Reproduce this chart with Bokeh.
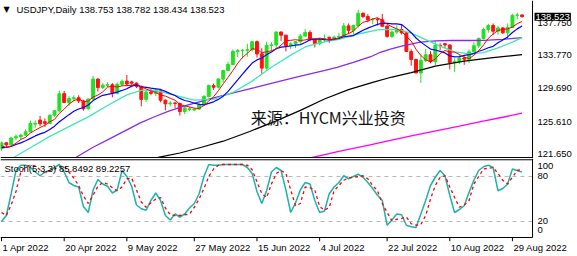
import pandas as pd
from bokeh.plotting import figure
from bokeh.layouts import column
from bokeh.models import Range1d, Label, Span, ColumnDataSource
from bokeh.core.properties import value
from bokeh.embed import file_html
from bokeh.resources import INLINE

# ---------------- texts ----------------
symbol_title = "USDJPY,Daily  138.753 138.782 138.434 138.523"
stoch_title = "Stoch(5,3,3) 85.8492 89.2257"
watermark = "来源：HYCM兴业投资"
last_price = 138.523

# ---------------- data ----------------
dates = pd.bdate_range("2022-04-01", "2022-08-31")   # 109 daily bars
bar = list(range(len(dates)))

opens = [122.30, 123.00, 122.75, 123.60, 123.75, 123.95, 124.35, 125.30, 125.80, 125.60,
         125.40, 126.40, 126.95, 129.05, 127.95, 128.45, 128.55, 128.15, 127.20, 128.40,
         130.85, 129.80, 130.10, 130.15, 129.10, 130.20, 130.60, 130.50, 130.35, 129.95,
         128.35, 129.25, 129.10, 129.40, 128.25, 127.80, 127.90, 127.85, 126.85, 127.10,
         127.05, 127.15, 127.65, 128.70, 130.05, 129.85, 130.85, 131.90, 132.65, 134.25,
         134.35, 134.40, 134.45, 135.45, 133.95, 132.20, 135.00, 135.05, 136.65, 136.25,
         134.95, 135.20, 135.45, 136.15, 136.60, 135.70, 135.20, 135.70, 136.00, 135.85,
         136.00, 136.10, 137.40, 136.85, 137.45, 138.95, 138.55, 138.15, 138.20, 138.15,
         137.35, 136.10, 136.65, 136.95, 136.55, 134.25, 133.25, 131.60, 133.15, 133.85,
         133.00, 135.00, 135.20, 135.05, 132.90, 133.00, 133.45, 133.30, 134.20, 134.95,
         135.85, 136.95, 137.45, 136.75, 137.15, 136.55, 137.20, 138.70, 138.753]
highs = [123.15, 123.10, 123.75, 124.05, 124.10, 124.65, 125.75, 125.75, 126.30, 126.00,
         126.45, 127.05, 129.45, 129.40, 128.75, 128.85, 128.85, 128.30, 128.45, 131.25,
         130.95, 130.35, 130.45, 130.35, 130.45, 130.80, 131.35, 130.65, 130.45, 130.05,
         129.40, 129.65, 129.75, 129.45, 128.35, 128.15, 128.05, 127.95, 127.45, 127.45,
         127.30, 127.95, 128.90, 130.20, 130.30, 130.95, 132.00, 133.00, 134.50, 134.55,
         134.55, 135.20, 135.45, 135.60, 134.65, 135.45, 135.40, 136.70, 136.70, 136.30,
         135.40, 135.55, 136.40, 137.00, 136.85, 135.90, 135.95, 136.35, 136.05, 136.20,
         136.55, 137.75, 137.70, 137.55, 139.38, 139.05, 138.85, 138.35, 138.40, 138.88,
         137.50, 136.85, 137.45, 137.50, 136.60, 134.50, 133.40, 133.90, 134.55, 134.30,
         135.50, 135.25, 135.30, 135.10, 133.40, 133.85, 133.65, 134.50, 135.40, 135.95,
         137.20, 137.65, 137.70, 137.40, 137.25, 137.70, 138.85, 139.05, 138.782]
lows = [122.05, 122.45, 122.60, 123.30, 123.40, 123.85, 124.30, 124.85, 125.05, 124.95,
        125.35, 126.20, 126.75, 127.95, 127.55, 128.10, 127.90, 126.95, 127.05, 128.30,
        129.30, 129.60, 129.85, 128.60, 128.95, 129.95, 130.00, 129.85, 129.75, 127.50,
        128.05, 128.85, 128.75, 128.00, 127.00, 127.50, 127.30, 126.36, 126.55, 126.90,
        126.90, 127.10, 127.55, 128.60, 129.50, 129.70, 130.40, 131.80, 132.55, 133.55,
        133.40, 133.60, 134.25, 133.50, 131.50, 132.00, 134.25, 134.55, 135.55, 134.25,
        134.55, 134.65, 135.25, 136.05, 135.55, 134.75, 135.00, 135.40, 135.30, 135.65,
        135.85, 136.05, 136.40, 136.35, 137.20, 138.35, 137.85, 137.60, 137.45, 137.25,
        135.95, 135.90, 136.40, 136.35, 134.20, 132.50, 131.55, 130.39, 132.95, 132.80,
        132.55, 134.45, 134.65, 132.05, 131.75, 132.70, 132.60, 132.85, 134.10, 134.65,
        135.75, 136.55, 136.30, 136.30, 136.40, 135.80, 137.15, 138.20, 138.434]
closes = [123.00, 122.75, 123.60, 123.75, 123.95, 124.35, 125.40, 125.40, 125.35, 125.40,
          126.40, 126.95, 129.05, 127.95, 128.45, 128.55, 128.15, 127.20, 128.40, 130.85,
          129.80, 130.10, 130.15, 129.10, 130.20, 130.55, 130.25, 130.35, 129.95, 128.35,
          129.25, 129.10, 129.40, 128.25, 127.80, 127.90, 127.85, 126.85, 127.30, 127.20,
          127.15, 127.65, 128.70, 130.05, 129.85, 130.85, 131.90, 132.65, 134.25, 134.35,
          134.40, 134.45, 135.45, 133.95, 132.20, 135.00, 135.05, 136.65, 136.25, 134.95,
          135.20, 135.45, 136.15, 136.60, 135.70, 135.20, 135.70, 135.85, 135.85, 136.00,
          136.10, 137.40, 136.85, 137.45, 138.95, 138.55, 138.15, 138.20, 138.15, 137.35,
          136.10, 136.65, 136.95, 136.55, 134.25, 133.25, 131.60, 133.15, 133.85, 133.00,
          135.00, 134.95, 135.05, 132.90, 133.00, 133.45, 133.30, 134.20, 134.95, 135.85,
          136.95, 137.45, 136.75, 137.15, 136.55, 137.20, 138.70, 138.75, 138.523]

# fast (red) and 10-bar (blue) averages, one value per bar
ma_red = [122.64, 122.43, 122.59, 122.96, 123.41, 123.68, 124.21, 124.56, 124.88, 125.17,
          125.58, 125.89, 126.63, 127.15, 127.76, 128.19, 128.43, 128.06, 128.15, 128.63,
          128.88, 129.27, 129.86, 130.00, 129.87, 130.02, 130.05, 130.09, 130.26, 129.89,
          129.63, 129.40, 129.21, 128.87, 128.76, 128.49, 128.24, 127.73, 127.54, 127.42,
          127.27, 127.23, 127.60, 128.15, 128.68, 129.42, 130.27, 131.06, 131.90, 132.80,
          133.51, 134.02, 134.58, 134.52, 134.09, 134.21, 134.33, 134.57, 135.03, 135.58,
          135.62, 135.70, 135.60, 135.67, 135.82, 135.82, 135.87, 135.81, 135.66, 135.72,
          135.90, 136.24, 136.44, 136.76, 137.35, 137.84, 137.99, 138.26, 138.40, 138.08,
          137.59, 137.29, 137.04, 136.72, 136.10, 135.53, 134.52, 133.76, 133.22, 132.97,
          133.32, 133.99, 134.37, 134.18, 134.18, 133.87, 133.54, 133.37, 133.78, 134.35,
          135.05, 135.88, 136.39, 136.83, 136.97, 137.02, 137.27, 137.67, 137.94]
ma_blue = [122.40, 122.45, 122.55, 122.80, 123.00, 123.25, 123.55, 123.85, 124.10, 124.29,
           124.63, 125.05, 125.60, 126.02, 126.47, 126.89, 127.16, 127.35, 127.65, 128.20,
           128.54, 128.85, 128.96, 129.08, 129.25, 129.45, 129.66, 129.98, 130.13, 129.88,
           129.83, 129.73, 129.65, 129.57, 129.33, 129.06, 128.82, 128.47, 128.21, 128.09,
           127.88, 127.74, 127.67, 127.85, 128.05, 128.35, 128.75, 129.33, 130.03, 130.74,
           131.47, 132.15, 132.82, 133.21, 133.45, 133.86, 134.18, 134.58, 134.78, 134.84,
           134.92, 135.02, 135.09, 135.35, 135.70, 135.72, 135.79, 135.71, 135.67, 135.77,
           135.86, 136.06, 136.13, 136.21, 136.54, 136.87, 137.12, 137.35, 137.58, 137.72,
           137.72, 137.64, 137.65, 137.56, 137.09, 136.56, 135.91, 135.40, 134.97, 134.54,
           134.43, 134.26, 134.07, 133.70, 133.58, 133.60, 133.77, 133.87, 133.98, 134.27,
           134.46, 134.71, 134.88, 135.31, 135.66, 136.04, 136.58, 137.03, 137.39]

# slower averages, read at sample bars
teal_bar = [2.5, 6, 10, 14, 18, 22, 26, 29, 32, 36, 40, 44, 48, 52, 56, 60, 63, 66, 70, 74,
            78, 82, 85, 88, 91, 94, 97, 100, 103, 106, 108]
teal_val = [121.2, 122.4, 123.8, 125.0, 126.2, 127.6, 128.9, 129.45, 129.45, 128.85, 128.25,
            128.35, 129.2, 130.6, 132.3, 133.8, 134.8, 135.3, 135.75, 136.4, 136.9, 137.0,
            136.5, 135.7, 134.9, 134.2, 133.95, 134.1, 134.7, 135.4, 135.95]
purple_bar = [15.4, 19, 22.6, 26, 28.8, 31.5, 34.7, 38, 41.6, 45, 48.5, 52.5, 56.8, 59.5, 62.7,
              66.9, 69.6, 73, 76.6, 78.6, 80.7, 83, 86.9, 90, 93.2, 97, 100, 104, 108]
purple_val = [121.2, 122.45, 123.55, 124.6, 125.45, 126.15, 126.9, 127.55, 128.15, 128.7,
              129.2, 129.8, 130.45, 130.85, 131.3, 131.9, 132.3, 132.9, 133.6, 134.15,
              134.55, 134.9, 135.4, 135.55, 135.6, 135.6, 135.62, 135.75, 135.95]
black_bar = [32.5, 37, 41.5, 46, 51.5, 57, 62, 67, 72, 77, 81, 85, 90, 96, 102, 108]
black_val = [121.2, 121.75, 122.45, 123.2, 124.4, 125.7, 127.0, 128.4, 129.55, 130.45,
             131.1, 131.65, 132.45, 133.05, 133.5, 133.85]
magenta_bar = [64.5, 70, 76, 80.7, 85, 90.4, 95, 99.4, 104, 108]
magenta_val = [121.2, 121.95, 122.7, 123.3, 123.85, 124.5, 125.05, 125.6, 126.15, 126.65]

# stochastic (5,3,3): main and signal, one value per bar
stoch_main = [20, 28, 57, 88, 95, 95, 92, 86, 81, 86, 88, 92, 96, 86, 72, 68, 66, 40, 32, 62,
              76, 70, 67, 58, 62, 88, 80, 67, 42, 37, 35, 48, 58, 48, 28, 22, 30, 26, 30, 38,
              44, 57, 80, 96, 95, 95, 96, 96, 96, 96, 96, 92, 84, 60, 44, 61, 86, 92, 88, 62,
              32, 45, 62, 72, 70, 48, 32, 34, 57, 66, 72, 81, 77, 80, 83, 79, 72, 64, 55, 48,
              15, 22, 30, 29, 15, 13, 12, 30, 48, 68, 79, 88, 81, 55, 32, 36, 41, 59, 75, 88,
              93, 95, 92, 61, 64, 70, 90, 88, 85.85]
stoch_signal = [32, 28, 42, 60, 86, 93, 95, 94, 89, 85, 88, 90, 93, 94, 86, 78, 68, 54, 44, 55,
                67, 72, 70, 65, 61, 66, 77, 78, 62, 46, 39, 45, 50, 52, 38, 29, 28, 28, 29, 30,
                39, 50, 64, 80, 90, 95, 96, 96, 96, 96, 96, 95, 89, 73, 57, 52, 70, 84, 88, 84,
                62, 41, 44, 66, 65, 62, 40, 35, 39, 61, 68, 75, 78, 79, 80, 81, 77, 68, 61, 44,
                32, 21, 23, 24, 26, 17, 15, 16, 28, 50, 68, 79, 81, 66, 52, 39, 42, 48, 70, 80,
                90, 91, 92, 84, 75, 70, 79, 88, 89.23]

tick_dates = ["2022-04-01", "2022-04-20", "2022-05-09", "2022-05-27", "2022-06-15",
              "2022-07-04", "2022-07-22", "2022-08-10", "2022-08-29"]
tick_labels = ["1 Apr 2022", "20 Apr 2022", "9 May 2022", "27 May 2022", "15 Jun 2022",
               "4 Jul 2022", "22 Jul 2022", "10 Aug 2022", "29 Aug 2022"]
price_ticks = [121.65, 125.61, 129.69, 133.77, 137.75]
stoch_ticks = [100, 80, 20, 0]
stoch_levels = [20, 80]

# ---------------- styling / layout constants ----------------
FONT = "Liberation Sans"
FS = "9.5px"
BULL = "#22e022"
BEAR = "#ff1010"
PX_PER_BAR = 4.82
X_LO = -0.21                  # left edge of the chart area (in bars)
AXIS_X = 110.17               # right edge of the chart area = price-axis line
MAIN_LO = 121.19              # price at the bottom edge of the price pane
STO_LO, STO_HI = -1.33, 102.3  # stochastic pane bottom / top edge

date_list = [d.strftime("%Y-%m-%d") for d in dates]
tick_bars = [date_list.index(d) for d in tick_dates]

xr = Range1d(X_LO, X_LO + 577 / PX_PER_BAR)


def base_fig(height, y_range):
    f = figure(width=577, height=height, x_range=xr, y_range=y_range,
               x_axis_location=None, y_axis_location=None,
               output_backend="svg", toolbar_location=None,
               min_border_left=0, min_border_right=0, min_border_top=0, min_border_bottom=0)
    f.outline_line_color = None
    f.grid.visible = False
    f.background_fill_color = "white"
    f.border_fill_color = "white"
    return f


# ---------------- main price pane ----------------
p = base_fig(158, Range1d(121.07, 140.525))

colors = [BULL if c >= o else BEAR for o, c in zip(opens, closes)]
src = ColumnDataSource(dict(
    x=bar, h=highs, l=lows,
    top=[max(o, c) for o, c in zip(opens, closes)],
    bottom=[min(o, c) for o, c in zip(opens, closes)],
    color=colors))
p.segment(x0="x", y0="l", x1="x", y1="h", line_color="color", line_width=1, source=src)
p.vbar(x="x", width=0.6, top="top", bottom="bottom", fill_color="color",
       line_color="color", line_width=1, source=src)

p.line(magenta_bar, magenta_val, line_color="#ff00ff", line_width=1.3)
p.line(black_bar, black_val, line_color="black", line_width=1.2)
p.line(purple_bar, purple_val, line_color="#8a2be2", line_width=1.3)
p.line(teal_bar, teal_val, line_color="#3de8b4", line_width=1.3)
p.line(bar, ma_blue, line_color="#0000ff", line_width=1.2)
p.line(bar, ma_red, line_color="#ff0000", line_width=1.0)

# pane frame: price-axis line and bottom border
p.add_layout(Span(location=AXIS_X, dimension="height", line_color="black", line_width=1))
p.segment(x0=[X_LO], x1=[AXIS_X], y0=[MAIN_LO], y1=[MAIN_LO], line_color="black", line_width=1)

# price-axis labels
p.text(x=[AXIS_X] * len(price_ticks), y=price_ticks, text=["%.3f" % t for t in price_ticks],
       x_offset=5, text_font=value(FONT), text_font_size=value(FS), text_color="black",
       text_align="left", text_baseline="middle")

p.add_layout(Label(x=X_LO, y=140.525, x_offset=3, y_offset=-9, text="▼",
                   text_font="DejaVu Sans", text_font_size="8px", text_color="black",
                   text_baseline="middle"))
p.add_layout(Label(x=X_LO, y=140.525, x_offset=16, y_offset=-9, text=symbol_title,
                   text_font=FONT, text_font_size=FS, text_color="black",
                   text_baseline="middle"))
p.add_layout(Label(x=67.8, y=126.12, text=watermark, text_font="Noto Sans CJK SC",
                   text_font_size="16px", text_color="#111111",
                   text_align="center", text_baseline="middle"))
p.add_layout(Label(x=AXIS_X, y=last_price, x_offset=2, text="%.3f" % last_price,
                   text_font=FONT, text_font_size=FS, text_color="white",
                   text_baseline="middle", background_fill_color="black", padding=1))

# ---------------- stochastic pane ----------------
q = base_fig(98, Range1d(-26.67, 104.0))

for lv in stoch_levels:
    q.segment(x0=[X_LO], x1=[AXIS_X], y0=[lv], y1=[lv], line_color="#b8b8b8",
              line_dash="4 4", line_width=1)
q.segment(x0=[X_LO, X_LO], x1=[AXIS_X, AXIS_X], y0=[STO_HI, STO_LO], y1=[STO_HI, STO_LO],
          line_color="black", line_width=1)
q.segment(x0=[AXIS_X], x1=[AXIS_X], y0=[STO_LO], y1=[104.0], line_color="black", line_width=1)

q.line(bar, stoch_main, line_color="#20b2aa", line_width=1.5)
q.line(bar, stoch_signal, line_color="#ff0000", line_width=1.3, line_dash="3 3")

# time axis: tick marks and left-aligned date labels
q.segment(x0=tick_bars, x1=tick_bars, y0=[STO_LO] * len(tick_bars),
          y1=[STO_LO - 5] * len(tick_bars), line_color="black", line_width=1)
q.text(x=tick_bars, y=[STO_LO - 14] * len(tick_bars), text=tick_labels, x_offset=1,
       text_font=value(FONT), text_font_size=value(FS), text_color="black",
       text_align="left", text_baseline="middle")

q.add_layout(Label(x=X_LO, y=104.0, x_offset=4, y_offset=-10, text=stoch_title,
                   text_font=FONT, text_font_size=FS, text_color="black",
                   text_baseline="middle"))
for v, off in zip(stoch_ticks, [-5, 0, 0, 6]):
    q.add_layout(Label(x=AXIS_X, y=v, x_offset=5, y_offset=off, text=str(v),
                       text_font=FONT, text_font_size=FS, text_color="black",
                       text_baseline="middle"))

layout = column(p, q, spacing=0)
open("out.html", "w").write(file_html(layout, INLINE))
